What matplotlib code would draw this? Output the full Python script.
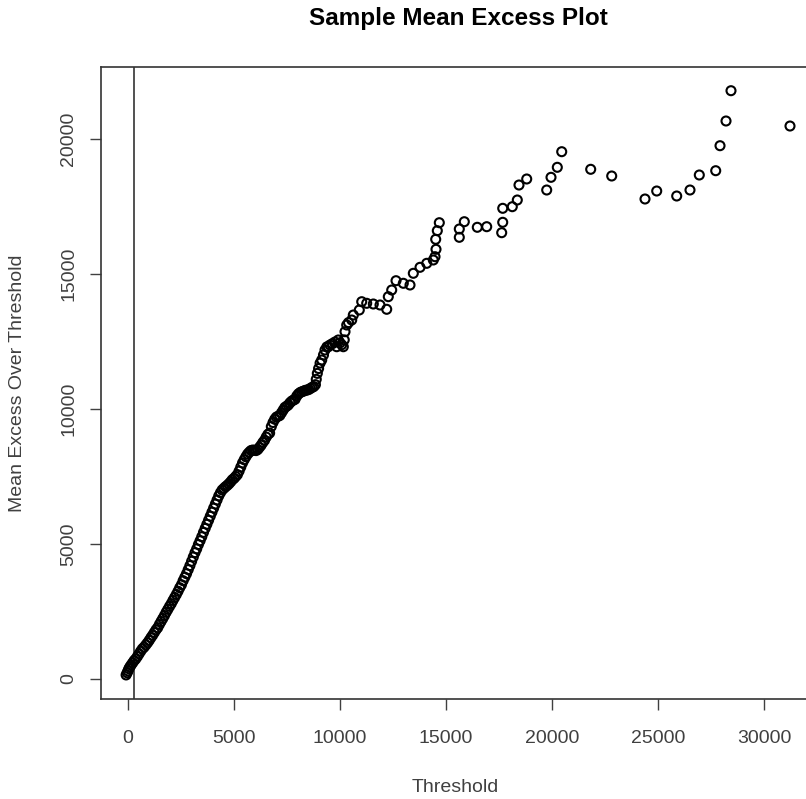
import numpy as np
from matplotlib import pyplot as plt

# threshold / mean excess pairs
thresholds = [
    -90, -40, 0, 40, 90, 150, 220, 290, 360, 440, 520, 600, 680, 760, 840, 920,
    1000, 1080, 1160, 1240, 1320, 1400, 1480, 1560, 1640, 1720, 1800, 1880, 1960,
    2040, 2120, 2200, 2280, 2360, 2440, 2520, 2600, 2680, 2760, 2840, 2920, 3000,
    3080, 3160, 3240, 3320, 3400, 3480, 3560, 3640, 3720, 3800, 3880, 3960, 4040,
    4120, 4200, 4280, 4360, 4440, 4520, 4600, 4680, 4760, 4840, 4920, 5000, 5080,
    5160, 5240, 5320, 5400, 5480, 5560, 5640, 5720, 5800, 5880, 5960, 6040, 6120,
    6200, 6280, 6360, 6440, 6520, 6600, 6680, 6760, 6840, 6920, 7000, 7080, 7160,
    7240, 7320, 7400, 7480, 7560, 7640, 7720, 7800, 7880, 7960, 8040, 8120, 8200,
    8280, 8360, 8440, 8520, 8600, 8680, 8760, 8840, 8880, 8930, 8990, 9060, 9137,
    9220, 9292, 9380, 9448, 9528, 9640, 9760, 9844, 9920, 10000, 10080, 10156,
    10200, 10236, 10316, 10400,
    10552, 10627, 10910, 11024, 11259, 11571, 11887, 12203, 12278, 12439, 12642,
    12986, 13302, 13458, 13774, 14090, 14401, 14481, 14528, 14514, 14590, 14684,
    15627, 15627, 15863, 16476, 16920, 17627, 17675, 17675, 18127, 18363, 18443,
    18807, 19750, 19953, 20250, 20458, 21825, 22816, 24387, 24939, 25882, 26509,
    26948, 27722, 27925, 28208, 28443, 31226,
]
mean_excess = [
    150, 230, 300, 380, 450, 520, 600, 680, 740, 830, 930, 1030, 1120, 1180, 1260,
    1340, 1430, 1530, 1620, 1720, 1820, 1900, 2020, 2130, 2240, 2350, 2470, 2580,
    2690, 2790, 2910, 3020, 3130, 3250, 3380, 3490, 3640, 3770, 3900, 4050, 4200,
    4360, 4520, 4680, 4820, 4980, 5120, 5270, 5430, 5580, 5730, 5880, 6030, 6180,
    6330, 6480, 6630, 6780, 6900, 7000, 7060, 7120, 7170, 7230, 7300, 7380, 7430,
    7500, 7570, 7700, 7850, 8000, 8120, 8230, 8330, 8400, 8460, 8480, 8470, 8460,
    8500, 8580, 8660, 8760, 8840, 8960, 9060, 9110, 9350, 9500, 9620, 9700, 9730,
    9760, 9860, 9960, 10060, 10100, 10150, 10230, 10290, 10330, 10360, 10480,
    10560, 10610, 10640, 10660, 10690, 10700, 10720, 10760, 10800, 10830, 10900,
    11100, 11320, 11500, 11700, 11815, 12000, 12185, 12300, 12307, 12370, 12420,
    12480, 12307, 12556, 12450, 12380, 12307, 12560, 12863, 13111, 13200,
    13296, 13481, 13667, 13974, 13915, 13889, 13852, 13693, 14160, 14407, 14752,
    14656, 14593, 15026, 15248, 15396, 15519, 15641, 15915, 16285, 16604, 16900,
    16359, 16667, 16937, 16730, 16752, 16530, 16915, 17433, 17493, 17741, 18296,
    18519, 18111, 18581, 18952, 19530, 18878, 18630, 17778, 18074, 17889, 18111,
    18667, 18826, 19752, 20667, 21789, 20481,
]
threshold_line = 283
x_ticks = [0, 5000, 10000, 15000, 20000, 25000, 30000]
y_ticks = [0, 5000, 10000, 15000, 20000]

plt.rcParams['font.family'] = ['Liberation Sans', 'DejaVu Sans']
txt = '#404040'

fig = plt.figure(figsize=(8.06, 7.99), dpi=100)
# axes box runs past the right edge, as in the reference
ax = fig.add_axes([101 / 806, 100 / 799, 717 / 806, 632 / 799])

ax.scatter(thresholds, mean_excess, s=42, facecolors='none', edgecolors='black',
           linewidths=1.5, zorder=3)
ax.axvline(threshold_line, color='#333333', linewidth=1.2, zorder=2)

ax.set_xlim(-1274, 32547)
ax.set_ylim(-741, 22667)
ax.set_xticks(x_ticks)
ax.set_yticks(y_ticks)
ax.set_xticklabels([str(v) for v in x_ticks])
ax.set_yticklabels([str(v) for v in y_ticks], rotation=90, va='center')
ax.tick_params(axis='both', direction='out', length=8, width=1.0, color='#404040',
               labelcolor=txt, labelsize=14)
ax.tick_params(axis='x', pad=14)
ax.tick_params(axis='y', pad=9)
for sp in ax.spines.values():
    sp.set_color('#333333')
    sp.set_linewidth(1.2)

ax.set_xlabel('Threshold', fontsize=14, color=txt)
ax.set_ylabel('Mean Excess Over Threshold', fontsize=14, color=txt)
ax.xaxis.set_label_coords(0.494, -0.127)
ax.yaxis.set_label_coords(-0.104, 0.5)

fig.text(458 / 806, 1 - 18 / 799, 'Sample Mean Excess Plot', ha='center', va='center',
         fontsize=17.5, fontweight='bold', color='black')

fig.savefig('out.png', dpi=100)
